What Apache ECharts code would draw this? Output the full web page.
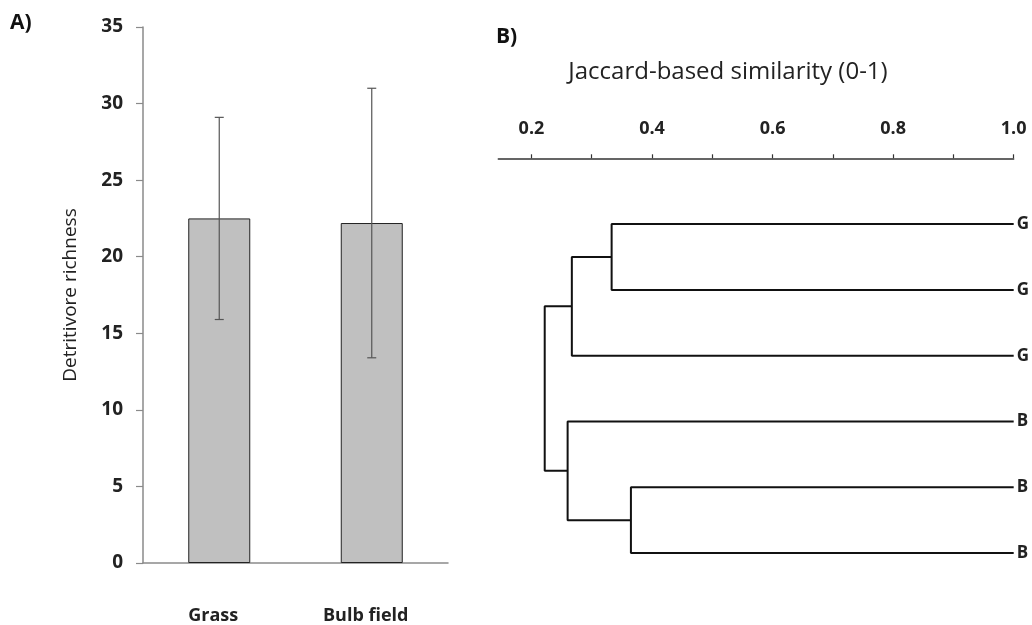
<!DOCTYPE html>
<html>
<head>
<meta charset="utf-8">
<script src="https://cdn.jsdelivr.net/npm/echarts@6/dist/echarts.min.js"></script>
<style>
  html, body { margin: 0; padding: 0; background: #fff; }
  #chart { width: 1032px; height: 625px; }
</style>
</head>
<body>
<div id="chart"></div>
<script>
// ---------- Panel A data ----------
const categories = ['Grass', 'Bulb field'];
const richness = [22.5, 22.2];
const errLow = [15.9, 13.4];
const errHigh = [29.1, 31.0];
const richnessMax = 35;
const richnessStep = 5;

// ---------- Panel B data ----------
const leafLabels = ['G', 'G', 'G', 'B', 'B', 'B'];
const leafSimilarity = 1.0;
// [childA, childB, similarity]; indices 0-5 are leaves, 6+ are merged clusters in order
const merges = [
  [0, 1, 0.333],
  [6, 2, 0.267],
  [4, 5, 0.365],
  [3, 8, 0.260],
  [7, 9, 0.222]
];
const simMin = 0.145;
const simMax = 1.0;
const simTickValues = [0.2, 0.3, 0.4, 0.5, 0.6, 0.7, 0.8, 0.9, 1.0];
const simLabelValues = [0.2, 0.4, 0.6, 0.8, 1.0];

const FONT = '"Open Sans"';

// Build dendrogram node positions from the merge table
const nodes = leafLabels.map((l, i) => ({ x: leafSimilarity, y: i + 1 }));
const dendroSeries = merges.map((m) => {
  const a = nodes[m[0]], b = nodes[m[1]];
  const h = m[2];
  nodes.push({ x: h, y: (a.y + b.y) / 2 });
  return {
    type: 'line',
    xAxisIndex: 1,
    yAxisIndex: 1,
    data: [[a.x, a.y], [h, a.y], [h, b.y], [b.x, b.y]],
    showSymbol: false,
    symbol: 'none',
    silent: true,
    clip: false,
    lineStyle: { color: '#111', width: 2 },
    animation: false
  };
});

const chart = echarts.init(document.getElementById('chart'));
chart.setOption({
  backgroundColor: '#fff',
  animation: false,
  textStyle: { fontFamily: FONT },
  grid: [
    { left: 143, top: 27, width: 305, height: 537.7 },
    { left: 498.3, top: 158.3, width: 516, height: 460.6 }
  ],
  xAxis: [
    {
      type: 'category',
      gridIndex: 0,
      data: categories,
      axisLine: { lineStyle: { color: '#8a8a8a', width: 1.5 } },
      axisTick: { show: false },
      axisLabel: {
        color: '#222', fontWeight: 'bold', fontSize: 18, fontFamily: FONT,
        margin: 44, padding: [0, 12, 0, 0]
      },
      splitLine: { show: false }
    },
    {
      type: 'value',
      gridIndex: 1,
      position: 'top',
      min: simMin,
      max: simMax,
      axisLine: { show: true, lineStyle: { color: '#333', width: 1.5 } },
      axisTick: { show: true, customValues: simTickValues, length: 4, lineStyle: { color: '#333', width: 1.2 } },
      axisLabel: {
        customValues: simLabelValues,
        formatter: (v) => Number(v).toFixed(1),
        color: '#222', fontWeight: 'bold', fontSize: 18, fontFamily: FONT, margin: 20
      },
      splitLine: { show: false }
    }
  ],
  yAxis: [
    {
      type: 'value',
      gridIndex: 0,
      min: 0,
      max: richnessMax,
      interval: richnessStep,
      name: 'Detritivore richness',
      nameLocation: 'middle',
      nameGap: 63,
      nameTextStyle: { color: '#222', fontSize: 19, fontFamily: FONT },
      axisLine: { show: true, lineStyle: { color: '#8a8a8a', width: 1.5 } },
      axisTick: { show: true, inside: false, length: 7, lineStyle: { color: '#8a8a8a', width: 1.2 } },
      axisLabel: { color: '#222', fontWeight: 'bold', fontSize: 19, fontFamily: FONT, margin: 20 },
      splitLine: { show: false }
    },
    {
      type: 'value',
      gridIndex: 1,
      min: 0,
      max: 7,
      inverse: true,
      position: 'right',
      axisLine: { show: false },
      axisTick: { show: false },
      axisLabel: {
        customValues: leafLabels.map((l, i) => i + 1),
        formatter: (v) => leafLabels[Math.round(v) - 1] || '',
        color: '#222', fontWeight: 'bold', fontSize: 17, fontFamily: FONT, margin: 3
      },
      splitLine: { show: false }
    }
  ],
  series: [
    {
      type: 'bar',
      xAxisIndex: 0,
      yAxisIndex: 0,
      data: richness,
      barWidth: 62,
      itemStyle: { color: '#c0c0c0', borderColor: '#222', borderWidth: 1 },
      silent: true
    },
    {
      type: 'custom',
      xAxisIndex: 0,
      yAxisIndex: 0,
      data: categories.map((c, i) => [i, errLow[i], errHigh[i]]),
      silent: true,
      z: 5,
      renderItem: function (params, api) {
        const lo = api.coord([api.value(0), api.value(1)]);
        const hi = api.coord([api.value(0), api.value(2)]);
        const hw = 4.5;
        const st = { stroke: '#555', lineWidth: 1.2 };
        return {
          type: 'group',
          children: [
            { type: 'line', shape: { x1: hi[0], y1: hi[1], x2: lo[0], y2: lo[1] }, style: st },
            { type: 'line', shape: { x1: hi[0] - hw, y1: hi[1], x2: hi[0] + hw, y2: hi[1] }, style: st },
            { type: 'line', shape: { x1: lo[0] - hw, y1: lo[1], x2: lo[0] + hw, y2: lo[1] }, style: st }
          ]
        };
      }
    }
  ].concat(dendroSeries),
  graphic: [
    { type: 'text', left: 10, top: 13, style: { text: 'A)', font: 'bold 21px ' + FONT, fill: '#111' } },
    { type: 'text', left: 496, top: 27, style: { text: 'B)', font: 'bold 21px ' + FONT, fill: '#111' } },
    {
      type: 'text', x: 728, y: 72,
      style: { text: 'Jaccard-based similarity (0-1)', font: '24px ' + FONT, fill: '#222', align: 'center', verticalAlign: 'middle' }
    }
  ]
});
</script>
</body>
</html>
